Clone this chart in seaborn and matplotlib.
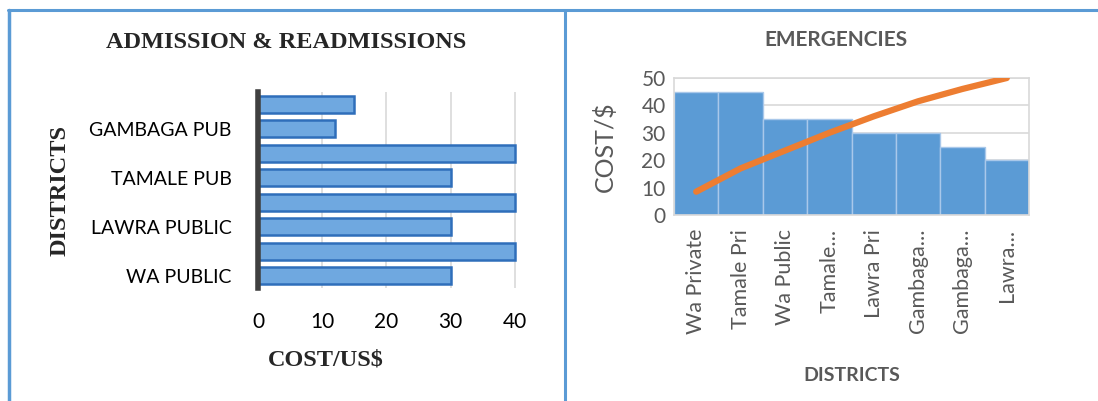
import matplotlib
matplotlib.use("Agg")
import matplotlib.pyplot as plt
import seaborn as sns
import numpy as np
import pandas as pd
from matplotlib.lines import Line2D

# ---- data ----
adm_categories = ["WA PUBLIC", "WA PRIVATE", "LAWRA PUBLIC", "LAWRA PRIVATE",
                  "TAMALE PUB", "TAMALE PRI", "GAMBAGA PUB", "GAMBAGA PRI"]
adm_values = [30, 40, 30, 40, 30, 40, 12, 15]
adm_shown_labels = ["WA PUBLIC", "", "LAWRA PUBLIC", "", "TAMALE PUB", "", "GAMBAGA PUB", ""]
adm_xticks = [0, 10, 20, 30, 40]

em_categories = ["Wa Private", "Tamale Pri", "Wa Public", "Tamale...",
                 "Lawra Pri", "Gambaga...", "Gambaga...", "Lawra..."]
em_values = [45, 45, 35, 35, 30, 30, 25, 20]
em_line = [8.5, 17, 23.5, 30, 36, 41.5, 46, 50]
em_yticks = [0, 10, 20, 30, 40, 50]

sns.set_theme(style="white")
plt.rcParams['font.family'] = ['Lato', 'DejaVu Sans']

W, H = 1098, 401
fig = plt.figure(figsize=(W / 100, H / 100), dpi=100)

def ax_rect(x0, x1, ytop, ybot):
    return [x0 / W, 1 - ybot / H, (x1 - x0) / W, (ybot - ytop) / H]

SERIF = ["Liberation Serif", "DejaVu Serif"]

# ---- panel borders ----
border = "#5B9BD5"
fig.add_artist(Line2D([8 / W, 1], [1 - 9.5 / H] * 2, color=border, lw=2.2, transform=fig.transFigure))
fig.add_artist(Line2D([8.5 / W] * 2, [0, 1 - 9.5 / H], color=border, lw=2.5, transform=fig.transFigure))
fig.add_artist(Line2D([564.5 / W] * 2, [0, 1 - 9.5 / H], color=border, lw=2.2, transform=fig.transFigure))

# ---- left: admission & readmissions ----
ax1 = fig.add_axes(ax_rect(258, 518, 92, 288))
df1 = pd.DataFrame({"cat": adm_categories, "val": adm_values})
order_rev = adm_categories[::-1]
sns.barplot(data=df1, y="cat", x="val", order=order_rev, orient="h", ax=ax1,
            color="#6FA8E0", edgecolor="#2F6EBA", linewidth=1.8, width=0.68,
            saturation=1)
ax1.set_xlim(0, 40.5)
ax1.set_ylim(7.5, -0.5)
ax1.set_xticks(adm_xticks)
ax1.set_xticklabels([str(t) for t in adm_xticks], fontsize=15, color="#000000")
ax1.set_yticks(range(len(order_rev)))
ax1.set_yticklabels(adm_shown_labels[::-1], fontsize=14, color="#000000")
ax1.tick_params(axis="x", length=0, pad=17)
ax1.tick_params(axis="y", length=0, pad=19)
for t in adm_xticks[1:]:
    ax1.axvline(t, color="#D9D9D9", lw=1.2, zorder=0)
for s in ["top", "right", "bottom"]:
    ax1.spines[s].set_visible(False)
ax1.spines["left"].set_color("#404040")
ax1.spines["left"].set_linewidth(4)
ax1.set_xlabel("COST/US$", fontsize=17.5, fontweight="bold", family=SERIF)
ax1.xaxis.set_label_coords(0.26, -0.367)
ax1.xaxis.label.set_va("center")
ax1.set_ylabel("DISTRICTS", fontsize=17.5, fontweight="bold", family=SERIF)
ax1.yaxis.set_label_coords(-0.76, 0.5)
ax1.yaxis.label.set_va("center")
ax1.text(0.11, 1.25, "ADMISSION & READMISSIONS", transform=ax1.transAxes,
         ha="center", va="center", fontsize=17.5, fontweight="bold", family=SERIF)

# ---- right: emergencies ----
ax2 = fig.add_axes(ax_rect(674, 1029, 78, 215))
df2 = pd.DataFrame({"cat": list(range(len(em_categories))), "val": em_values})
sns.barplot(data=df2, x="cat", y="val", ax=ax2, color="#5B9BD5", saturation=1,
            width=1.0, edgecolor="#A9C8EA", linewidth=1.0, zorder=2)
sns.lineplot(x=list(range(len(em_line))), y=em_line, ax=ax2, color="#ED7D31",
             lw=4.5, zorder=3, solid_capstyle="round")
ax2.set_xlim(-0.5, len(em_categories) - 0.5)
ax2.set_ylim(0, 50)
ax2.set_yticks(em_yticks)
ax2.set_yticklabels([str(t) for t in em_yticks], fontsize=15, color="#595959")
ax2.set_xticks(range(len(em_categories)))
ax2.set_xticklabels(em_categories, rotation=90, fontsize=15.5, color="#595959")
ax2.tick_params(axis="x", length=0, pad=10)
ax2.tick_params(axis="y", length=0, pad=6)
ax2.grid(axis="y", color="#D9D9D9", lw=1.2, zorder=0)
ax2.set_axisbelow(True)
for s in ax2.spines.values():
    s.set_color("#D9D9D9")
    s.set_linewidth(1.2)
ax2.set_xlabel("DISTRICTS", fontsize=14, fontweight="bold", color="#595959")
ax2.xaxis.set_label_coords(0.501, -1.175)
ax2.xaxis.label.set_va("center")
ax2.set_ylabel("COST/$", fontsize=18, color="#595959")
ax2.yaxis.set_label_coords(-0.194, 0.5)
ax2.yaxis.label.set_va("center")
ax2.text(0.456, 1.277, "EMERGENCIES", transform=ax2.transAxes, ha="center",
         va="center", fontsize=15, fontweight="bold", color="#595959")

fig.savefig("out.png", dpi=100)
